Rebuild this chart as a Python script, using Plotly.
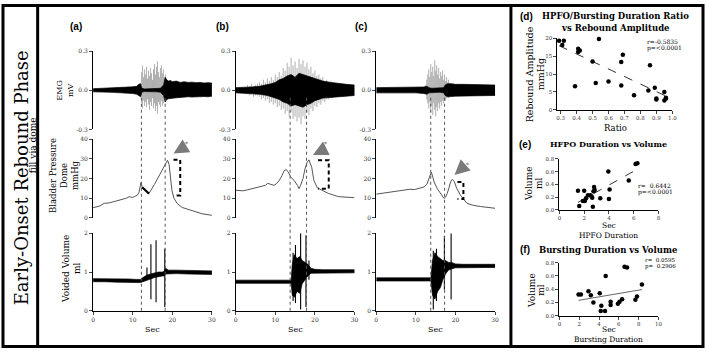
import plotly.graph_objects as go
import numpy as np

W, H = 709, 352
def fx(p): return p / W
def fy(p): return 1 - p / H

SERIF = "DejaVu Serif"
SANS = "Liberation Sans"

# ---------------- EMG (mV) ----------------
ea_t = [0,1,2,3,4,5,6,7,8,9,10,11,11.5,12,12.3,13,14,15,16,17,17.8,18.2,18.6,19,19.5,20,21,22,23,24,25,26,27,28,29,30]
ea_hi = [.012,.013,.013,.014,.016,.016,.018,.02,.022,.024,.026,.03,.045,.05,.015,.01,.01,.01,.012,.015,.04,.1,.08,.07,.075,.065,.07,.06,.065,.06,.062,.058,.06,.055,.058,.055]
ea_lo = [-.012,-.012,-.013,-.014,-.015,-.016,-.018,-.02,-.02,-.022,-.025,-.03,-.04,-.05,-.015,-.01,-.01,-.01,-.012,-.015,-.04,-.09,-.07,-.065,-.06,-.06,-.058,-.055,-.055,-.05,-.052,-.05,-.05,-.048,-.05,-.045]
ga_t = [12.0,12.25,12.5,12.75,13.0,13.25,13.5,13.75,14.0,14.25,14.5,14.75,15.0,15.25,15.5,15.75,16.0,16.25,16.5,16.75,17.0,17.25,17.5,17.75,18.0,18.25,18.5]
ga_up = [0.05,0.14,0.19,0.10,0.16,0.12,0.18,0.09,0.15,0.11,0.17,0.13,0.08,0.16,0.20,0.12,0.18,0.22,0.14,0.10,0.17,0.19,0.13,0.16,0.09,0.12,0.06]
ga_dn = [-0.04,-0.10,-0.14,-0.08,-0.12,-0.09,-0.13,-0.07,-0.11,-0.15,-0.09,-0.12,-0.06,-0.14,-0.10,-0.16,-0.12,-0.18,-0.09,-0.11,-0.13,-0.08,-0.12,-0.10,-0.07,-0.09,-0.05]

eb_t = [0,2,4,6,8,9,10,11,12,13,14,15,16,17,18,19,20,21,22,24,26,28,30]
eb_hi = [.02,.02,.025,.03,.04,.05,.06,.08,.09,.11,.12,.1,.13,.12,.11,.1,.09,.08,.07,.06,.05,.045,.04]
eb_lo = [-.02,-.02,-.025,-.03,-.04,-.05,-.06,-.07,-.09,-.1,-.12,-.11,-.12,-.13,-.11,-.1,-.08,-.07,-.06,-.055,-.05,-.045,-.04]
gb_t = [3,3.5,4,4.5,5,5.5,6,6.5,7,7.5,8,8.5,9,9.5,10,10.5,11,11.5,12,12.5,13,13.5,14,14.5,15,15.5,16,16.5,17,17.5,18,18.5,19,19.5,20,20.5,21,21.5,22,22.5,23,23.5,24,24.5,25,25.5,26,26.5,27]
gb_up = [.04,.03,.05,.03,.04,.05,.06,.05,.08,.06,.09,.07,.10,.08,.12,.10,.14,.11,.17,.15,.21,.18,.25,.19,.22,.17,.24,.20,.23,.18,.21,.16,.18,.13,.15,.11,.12,.09,.10,.07,.08,.06,.07,.05,.06,.05,.05,.04,.04]
gb_dn = [-.03,-.04,-.03,-.05,-.04,-.04,-.05,-.07,-.06,-.08,-.07,-.10,-.09,-.11,-.10,-.13,-.12,-.15,-.14,-.18,-.16,-.20,-.17,-.22,-.20,-.24,-.21,-.26,-.20,-.22,-.17,-.19,-.14,-.16,-.12,-.13,-.10,-.11,-.08,-.09,-.07,-.07,-.06,-.06,-.05,-.05,-.04,-.04,-.04]

ec_t = [0,2,4,6,8,10,12,12.8,13.3,14,15,16,17,17.4,18,19,20,22,24,26,28,30]
ec_hi = [.02,.02,.022,.022,.02,.022,.025,.03,.02,.015,.015,.015,.02,.04,.05,.05,.045,.045,.045,.042,.04,.04]
ec_lo = [-.02,-.02,-.02,-.022,-.02,-.02,-.025,-.03,-.02,-.015,-.015,-.015,-.02,-.04,-.05,-.048,-.045,-.045,-.042,-.04,-.04,-.04]
gc_t = [12.5,12.75,13.0,13.25,13.5,13.75,14.0,14.25,14.5,14.75,15.0,15.25,15.5,15.75,16.0,16.25,16.5,16.75,17.0,17.25,17.5,17.75,18.0,18.25,18.5]
gc_up = [0.04,0.08,0.12,0.16,0.10,0.20,0.14,0.18,0.11,0.23,0.15,0.19,0.12,0.17,0.09,0.14,0.11,0.15,0.08,0.12,0.07,0.10,0.06,0.08,0.05]
gc_dn = [-0.03,-0.07,-0.10,-0.14,-0.09,-0.17,-0.12,-0.19,-0.10,-0.15,-0.20,-0.13,-0.16,-0.10,-0.14,-0.09,-0.12,-0.08,-0.10,-0.07,-0.08,-0.06,-0.05,-0.06,-0.04]

# ---------------- Bladder pressure (mmHg) ----------------
pa_t = [0,1.5,2.8,4,5.3,6.5,7.8,8.5,9.1,9.9,10.5,11.2,11.6,11.9,12.1,12.4,13.2,14.1,15.5,17,18.2,18.8,19.2,19.5,19.9,20.4,21.2,22.5,25.3,27.5,30]
pa_p = [5.1,5.8,7.3,7.5,8.2,8.8,9.3,10.0,10.7,10.3,10.8,11.5,13,15.5,18,15.5,14,12.3,17,22.5,27,29.3,27,22,14,10,7.3,5.2,3.2,2,1.2]
pa_thick_t = [12.4,12.8,13.2,13.6,14.1]
pa_thick_p = [15.5,14.6,14.0,13.2,12.3]
pb_t = [0,1.8,3,4.3,6.4,7.5,8.1,8.9,9.7,10.4,11,11.7,12.25,12.8,13.3,13.9,14.75,15.6,16,16.4,17,17.5,18,18.5,19.2,19.75,20.6,21.8,23.5,26,30]
pb_p = [14,13.7,14.2,14.8,15.7,16.5,17.5,16.8,16.5,17.5,19,21.5,24,24.5,23.2,20.7,19,16.5,14.8,16.5,20,24.8,28,29.5,25.7,19,15.3,14,12.3,10.7,10.2]
pc_t = [0,2,3.75,5.5,7.1,8.5,9.6,10.8,12.1,12.8,13.3,13.9,14.3,14.6,15.4,16.4,17.1,17.5,17.9,18.4,18.75,19.2,19.7,20.3,21.25,22.9,24.5,26.25,28,30]
pc_p = [12,12.6,13.2,13.8,14.3,14.5,14.3,14.8,15.7,17.2,19.8,23.2,20.5,18.2,14.8,11.5,9.8,10.5,12.3,15.5,18.2,19.5,18.5,15,11.5,7.3,6.3,5.7,5.2,4.8]

# rebound amplitude brackets: (t_start, t_end, top, bottom)
brackets = {'a': (20.3, 22.0, 29.5, 11.3), 'b': (20.8, 23.5, 29.3, 14.8), 'c': (20.5, 22.0, 18.2, 9.5)}
# arrows: tip (t,p), tail (t,p), asterisk (t,p)
arrows = {'a': ((20.3, 32.7), (22.8, 35.7), (23.7, 37.8)),
          'b': ((19.5, 32.0), (22.3, 34.8), (22.8, 37.7)),
          'c': ((19.75, 21.8), (21.7, 25.3), (23.1, 27.3))}

# ---------------- Voided volume (ml) ----------------
va_t = [0,3,6,9,11,12,12.5,13.5,14.5,15.5,16.5,17.5,18,18.3,19,21,24,27,30]
va_hi = [0.83,0.83,0.82,0.82,0.81,0.81,0.85,0.92,0.95,0.98,1.0,1.0,1.02,1.1,1.05,1.05,1.04,1.03,1.03]
va_lo = [0.75,0.75,0.74,0.74,0.73,0.73,0.75,0.79,0.82,0.86,0.88,0.9,0.9,0.95,0.96,0.96,0.95,0.94,0.94]
sa_t = [13.6, 14.6, 15.9, 18.1]
sa_hi = [1.12, 1.72, 1.82, 1.6]
sa_lo = [0.85, 0.3, 0.22, 0.1]
vb_t = [0,3,6,9,12,14,14.3,14.8,15.5,16.2,16.8,17.5,18.2,19,20,22,25,28,30]
vb_hi = [0.79,0.79,0.79,0.79,0.79,0.79,1.2,1.45,1.35,1.4,1.3,1.25,1.2,1.1,1.07,1.06,1.06,1.06,1.06]
vb_lo = [0.71,0.71,0.71,0.71,0.71,0.71,0.4,0.35,0.5,0.45,0.7,0.8,0.9,0.97,0.98,0.98,0.98,0.98,0.98]
sb_t = [14.5, 15.1, 16.4, 17.75, 18.5]
sb_hi = [1.5, 1.7, 2.0, 1.95, 1.3]
sb_lo = [0.25, 0.2, 0.03, 0.1, 0.8]
vc_t = [0,3,6,9,12,13.8,14.2,14.8,15.5,16.2,16.8,17.5,18.2,19,20,22,25,28,30]
vc_hi = [0.85,0.85,0.85,0.85,0.85,0.85,1.3,1.5,1.4,1.35,1.3,1.3,1.25,1.25,1.21,1.2,1.2,1.2,1.2]
vc_lo = [0.77,0.77,0.77,0.77,0.77,0.77,0.4,0.3,0.5,0.6,0.8,0.95,1.05,1.08,1.11,1.12,1.12,1.12,1.12]
sc_t = [14.4, 15.2, 17.2, 18.9]
sc_hi = [1.55, 1.6, 1.93, 2.0]
sc_lo = [0.03, 0.25, 0.55, 0.29]

# dashed event markers (sec)
events = {'a': [12.2, 18.2], 'b': [13.75, 17.9], 'c': [13.75, 17.25]}

# ---------------- scatter panels ----------------
d_x = [0.29,0.32,0.31,0.41,0.42,0.41,0.54,0.50,0.39,0.52,0.60,0.69,0.68,0.68,0.76,0.86,0.85,0.89,0.90,0.90,0.95,0.96,0.95,0.96]
d_y = [19.3,19.3,18.1,17.1,16.6,16.2,19.8,13.5,6.6,7.5,7.9,15.4,13.4,6.8,4.1,12.5,5.4,6.2,3.2,2.9,5.0,3.2,2.6,3.4]
e_x = [1.5,1.6,2.0,1.9,2.05,2.15,2.3,2.5,2.6,2.65,2.75,2.8,2.85,2.7,3.3,3.95,4.05,4.0,5.6,6.15,6.3]
e_y = [0.30,0.06,0.30,0.14,0.14,0.18,0.23,0.23,0.21,0.19,0.29,0.36,0.31,0.05,0.18,0.60,0.32,0.17,0.46,0.72,0.73]
f_x = [1.93,2.17,2.93,3.17,3.43,4.07,4.23,4.17,4.6,4.67,5.17,5.17,5.9,6.07,6.33,6.57,6.83,7.67,7.83,8.33]
f_y = [0.32,0.32,0.37,0.31,0.20,0.34,0.15,0.07,0.07,0.60,0.21,0.16,0.18,0.21,0.25,0.74,0.73,0.24,0.29,0.47]

fig = go.Figure()
layout = dict(width=W, height=H, margin=dict(l=0, r=0, t=0, b=0),
              paper_bgcolor='white', plot_bgcolor='white', showlegend=False,
              font=dict(family=SERIF, size=6, color='black'))

def nm(k, a):
    return a if k == 1 else f"{a}{k}"

cols = {'a': (92, 212), 'b': (236, 356), 'c': (378, 498)}
rows = {'emg': (48, 128), 'pres': (138, 218), 'vol': (234, 313)}
yr = {'emg': ([-0.3, 0.3], [-0.3, 0, 0.3], ['-0.3', '0.0', '0.3']),
      'pres': ([0, 40], [0, 10, 20, 30, 40], ['0', '10', '20', '30', '40']),
      'vol': ([0, 2], [0, 1, 2], ['0', '1', '2'])}

axis_id = {}
k = 0
for c, (x0, x1) in cols.items():
    for r, (y0, y1) in rows.items():
        k += 1
        axis_id[(c, r)] = k
        rng, tv, tt = yr[r]
        layout[nm(k, 'xaxis')] = dict(domain=[fx(x0), fx(x1)], range=[0, 30], anchor=nm(k, 'y'),
                                      visible=(r == 'vol'), showline=True, linecolor='black', linewidth=1,
                                      ticks='outside', ticklen=3, tickwidth=1, tickvals=[0, 10, 20, 30],
                                      showgrid=False, zeroline=False,
                                      tickfont=dict(size=6, family=SERIF, color='#333'))
        layout[nm(k, 'yaxis')] = dict(domain=[fy(y1), fy(y0)], range=rng, anchor=nm(k, 'x'),
                                      showline=True, linecolor='black', linewidth=1, ticks='outside',
                                      ticklen=3, tickwidth=1, tickvals=tv, ticktext=tt, showgrid=False,
                                      zeroline=False, tickfont=dict(size=6, family=SERIF, color='#333'))

def band(t, hi, lo, k, color='black'):
    fig.add_trace(go.Scatter(x=list(t) + list(t)[::-1], y=list(hi) + list(lo)[::-1], fill='toself',
                             fillcolor=color, line=dict(color=color, width=0.7), mode='lines',
                             xaxis=nm(k, 'x'), yaxis=nm(k, 'y'), hoverinfo='skip'))

def spikes(t, hi, lo, k, color='black', width=1.1):
    xs, ys = [], []
    for ti, h, l in zip(t, hi, lo):
        xs += [ti, ti, None]
        ys += [h, l, None]
    fig.add_trace(go.Scatter(x=xs, y=ys, mode='lines', line=dict(color=color, width=width),
                             xaxis=nm(k, 'x'), yaxis=nm(k, 'y'), hoverinfo='skip'))

emg = {'a': (ea_t, ea_hi, ea_lo, ga_t, ga_up, ga_dn),
       'b': (eb_t, eb_hi, eb_lo, gb_t, gb_up, gb_dn),
       'c': (ec_t, ec_hi, ec_lo, gc_t, gc_up, gc_dn)}
pres = {'a': (pa_t, pa_p), 'b': (pb_t, pb_p), 'c': (pc_t, pc_p)}
vol = {'a': (va_t, va_hi, va_lo, sa_t, sa_hi, sa_lo),
       'b': (vb_t, vb_hi, vb_lo, sb_t, sb_hi, sb_lo),
       'c': (vc_t, vc_hi, vc_lo, sc_t, sc_hi, sc_lo)}

annotations = []
shapes = []

for c in cols:
    ke, kp, kv = axis_id[(c, 'emg')], axis_id[(c, 'pres')], axis_id[(c, 'vol')]
    t, hi, lo, gt, gu, gd = emg[c]
    spikes(gt, gu, gd, ke, '#9a9a9a', 0.8)
    band(t, hi, lo, ke)
    pt, pp = pres[c]
    fig.add_trace(go.Scatter(x=pt, y=pp, mode='lines', line=dict(color='#555', width=1),
                             xaxis=nm(kp, 'x'), yaxis=nm(kp, 'y'), hoverinfo='skip'))
    if c == 'a':
        fig.add_trace(go.Scatter(x=pa_thick_t, y=pa_thick_p, mode='lines', line=dict(color='black', width=2.2),
                                 xaxis=nm(kp, 'x'), yaxis=nm(kp, 'y'), hoverinfo='skip'))
    b0, b1, btop, bbot = brackets[c]
    fig.add_trace(go.Scatter(x=[b0, b1, b1, b0], y=[btop, btop, bbot, bbot], mode='lines',
                             line=dict(color='black', width=2, dash='4px,3px'),
                             xaxis=nm(kp, 'x'), yaxis=nm(kp, 'y'), hoverinfo='skip'))
    tip, tail, ast = arrows[c]
    annotations.append(dict(x=tip[0], y=tip[1], ax=tail[0], ay=tail[1], xref=nm(kp, 'x'), yref=nm(kp, 'y'),
                            axref=nm(kp, 'x'), ayref=nm(kp, 'y'), showarrow=True, arrowhead=2,
                            arrowsize=1.0, arrowwidth=3, arrowcolor='#7a7a7a', text=''))
    annotations.append(dict(x=ast[0], y=ast[1], xref=nm(kp, 'x'), yref=nm(kp, 'y'), text='*',
                            xanchor='center', yanchor='middle',
                            showarrow=False, font=dict(size=6, color='#555')))
    t, hi, lo, st, sh, sl = vol[c]
    band(t, hi, lo, kv)
    spikes(st, sh, sl, kv)
    for ev in events[c]:
        shapes.append(dict(type='line', xref=nm(kv, 'x'), yref='paper', x0=ev, x1=ev,
                           y0=fy(313), y1=fy(93), line=dict(color='#555', width=1, dash='dot')))
    annotations.append(dict(x=15, y=fy(332), xref=nm(kv, 'x'), yref='paper', text='Sec', showarrow=False,
                            xanchor='center', yanchor='middle', font=dict(size=8, family=SERIF)))

def txt(px, py, t, size=9, angle=0, family=SERIF, bold=False, anchor='center', color='black'):
    annotations.append(dict(x=fx(px), y=fy(py), xref='paper', yref='paper',
                            text=('<b>%s</b>' % t) if bold else t, textangle=angle,
                            showarrow=False, xanchor=anchor, yanchor='middle',
                            font=dict(size=size, family=family, color=color)))

# panel labels
for lab, (px, py) in {'(a)': (75, 23), '(b)': (223, 23), '(c)': (363, 23),
                      '(d)': (530, 13), '(e)': (528, 143), '(f)': (528, 250)}.items():
    txt(px, py, lab, 10, family=SANS, bold=True)

# y titles (column a)
txt(63, 88, 'EMG<br>mV', 8, -90)
txt(62, 175, 'Bladder Pressure<br>Dome<br>mmHg', 8.5, -90)
txt(70, 270, 'Voided Volume<br>ml', 9, -90)

# left title
txt(20, 177, 'Early-Onset Rebound Phase', 18, -90)
txt(31.5, 144, 'fill via dome', 9, -90)

# scatter panels
sc = {
    'd': dict(k=10, x=d_x, y=d_y, xd=(561, 677), yd=(35, 108), xr=[0.28, 1.0], yrng=[0, 20],
              xt=[0.3, 0.4, 0.5, 0.6, 0.7, 0.8, 0.9, 1.0], xtt=['0.3', '0.4', '0.5', '0.6', '0.7', '0.8', '0.9', '1.0'],
              yt=[0, 5, 10, 15, 20], ytt=['0', '5', '10', '15', '20'], dash='dash', lc='#333'),
    'e': dict(k=11, x=e_x, y=e_y, xd=(563, 663), yd=(158, 210), xr=[0, 8], yrng=[0, 0.8],
              xt=[0, 2, 4, 6, 8], xtt=['0', '2', '4', '6', '8'],
              yt=[0, 0.2, 0.4, 0.6, 0.8], ytt=['0.0', '0.2', '0.4', '0.6', '0.8'], dash='dash', lc='#333'),
    'f': dict(k=12, x=f_x, y=f_y, xd=(563, 663), yd=(264, 318), xr=[0, 10], yrng=[0, 0.8],
              xt=[0, 2, 4, 6, 8, 10], xtt=['0', '2', '4', '6', '8', '10'],
              yt=[0, 0.2, 0.4, 0.6, 0.8], ytt=['0.0', '0.2', '0.4', '0.6', '0.8'], dash='solid', lc='#666'),
}
for key, s in sc.items():
    k = s['k']
    layout[nm(k, 'xaxis')] = dict(domain=[fx(s['xd'][0]), fx(s['xd'][1])], range=s['xr'], anchor=nm(k, 'y'),
                                  showline=True, linecolor='black', linewidth=1, ticks='outside', ticklen=3,
                                  tickvals=s['xt'], ticktext=s['xtt'], showgrid=False, zeroline=False,
                                  tickfont=dict(size=5.5, family=SERIF, color='#333'))
    layout[nm(k, 'yaxis')] = dict(domain=[fy(s['yd'][1]), fy(s['yd'][0])], range=s['yrng'], anchor=nm(k, 'x'),
                                  showline=True, linecolor='black', linewidth=1, ticks='outside', ticklen=3,
                                  tickvals=s['yt'], ticktext=s['ytt'], showgrid=False, zeroline=False,
                                  tickfont=dict(size=5.5, family=SERIF, color='#333'))
    xa = np.array(s['x']); ya = np.array(s['y'])
    m, b = np.polyfit(xa, ya, 1)
    xl = np.array([xa.min(), xa.max()])
    fig.add_trace(go.Scatter(x=xl, y=m * xl + b, mode='lines', line=dict(color=s['lc'], width=1, dash=s['dash']),
                             xaxis=nm(k, 'x'), yaxis=nm(k, 'y'), hoverinfo='skip'))
    fig.add_trace(go.Scatter(x=s['x'], y=s['y'], mode='markers', marker=dict(color='black', size=4.5),
                             xaxis=nm(k, 'x'), yaxis=nm(k, 'y'), cliponaxis=False, hoverinfo='skip'))

txt(620, 12, 'HPFO/Bursting Duration Ratio', 8.5, bold=True)
txt(620, 24, 'vs Rebound Amplitude', 8.5, bold=True)
txt(533, 72, 'Rebound Amplitude', 9.5, -90)
txt(544, 72, 'mmHg', 9.5, -90)
txt(620, 127, 'Ratio', 8.5)
txt(649, 38, 'r=-0.5835', 6, anchor='left')
txt(649, 45, 'p=<0.0001', 6, anchor='left')

txt(613, 143, 'HFPO Duration vs Volume', 8, bold=True)
txt(533, 183, 'Volume', 9, -90)
txt(543, 183, 'ml', 9, -90)
txt(613, 226, 'Sec', 7.5)
txt(613, 236, 'HPFO Duration', 7.5)
txt(640, 185, 'r=  0.6442', 6, anchor='left')
txt(640, 192, 'p=<0.0001', 6, anchor='left')

txt(613, 251, 'Bursting Duration vs Volume', 8.5, bold=True)
txt(535, 292, 'Volume', 9, -90)
txt(545, 292, 'ml', 9, -90)
txt(613, 332, 'Sec', 7.5)
txt(613, 342, 'Bursting Duration', 7.5)
txt(647, 261, 'r=  0.0595', 5.5, anchor='left')
txt(647, 268, 'p=  0.2906', 5.5, anchor='left')

# frame lines
shapes.append(dict(type='rect', xref='paper', yref='paper', x0=fx(1), x1=fx(708), y0=fy(1.5), y1=fy(349.5),
                   line=dict(color='black', width=3)))
shapes.append(dict(type='line', xref='paper', yref='paper', x0=fx(36), x1=fx(36), y0=fy(1), y1=fy(350),
                   line=dict(color='black', width=3)))
shapes.append(dict(type='line', xref='paper', yref='paper', x0=fx(514), x1=fx(514), y0=fy(1), y1=fy(350),
                   line=dict(color='black', width=3)))

layout['annotations'] = annotations
layout['shapes'] = shapes
fig.update_layout(**layout)
fig.write_html("out.html", config={'displayModeBar': False})

# remove the default page margin so the figure sits at the window origin
with open("out.html", encoding="utf-8") as fh:
    html = fh.read()
html = html.replace("<body>", '<body style="margin:0;padding:0;overflow:hidden">', 1)
with open("out.html", "w", encoding="utf-8") as fh:
    fh.write(html)
